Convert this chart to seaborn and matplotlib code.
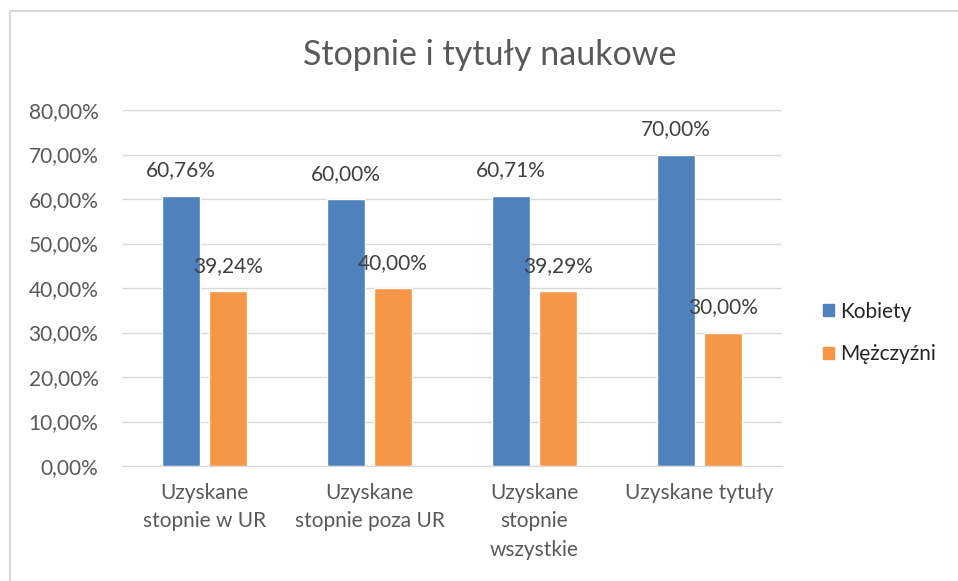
import seaborn as sns
import matplotlib.pyplot as plt
import pandas as pd
from matplotlib.patches import Rectangle, Patch

# data
kategorie = ["Uzyskane\nstopnie w UR", "Uzyskane\nstopnie poza UR",
             "Uzyskane\nstopnie\nwszystkie", "Uzyskane tytuły"]
kobiety = [60.76, 60.00, 60.71, 70.00]
mezczyzni = [39.24, 40.00, 39.29, 30.00]
serie = ["Kobiety", "Mężczyźni"]
kolory = ["#4F81BD", "#F79646"]

df = pd.DataFrame({
    "kat": kategorie * 2,
    "val": kobiety + mezczyzni,
    "plec": [serie[0]] * 4 + [serie[1]] * 4,
})

sns.set_style("white")
plt.rcParams['font.family'] = ['Lato', 'DejaVu Sans']
szary = "#595959"
fs = 15

fig = plt.figure(figsize=(9.58, 5.81), dpi=100)
ax = fig.add_axes([122 / 958, 1 - 466 / 581, 660 / 958, 356 / 581])

sns.barplot(data=df, x="kat", y="val", hue="plec", palette=kolory,
            width=0.57, gap=0.21, ax=ax, legend=False, saturation=1)

for cont in ax.containers:
    ax.bar_label(cont, labels=[f"{v:.2f}%".replace(".", ",") for v in cont.datavalues],
                 padding=11, fontsize=fs, color="#404040")

ax.set_ylim(0, 80)
ax.set_yticks(range(0, 81, 10))
ax.set_yticklabels([f"{t},00%" for t in range(0, 81, 10)], fontsize=fs, color=szary)
ax.tick_params(axis="x", labelsize=fs, labelcolor=szary, pad=12, length=0)
ax.tick_params(axis="y", pad=17, length=0)
for t in ax.get_xticklabels():
    t.set_linespacing(1.55)
ax.set_xlabel("")
ax.set_ylabel("")
ax.yaxis.grid(True, color="#D9D9D9", linewidth=1)
ax.set_axisbelow(True)
for s in ["top", "right", "left"]:
    ax.spines[s].set_visible(False)
ax.spines["bottom"].set_color("#D9D9D9")

fig.text(490 / 958, 1 - 55 / 581, "Stopnie i tytuły naukowe", ha="center", va="center",
         fontsize=24.5, color=szary)

handles = [Patch(color=c) for c in kolory]
fig.legend(handles, serie, loc="center left", bbox_to_anchor=(804 / 958, 1 - 333 / 581),
           frameon=False, fontsize=fs, labelspacing=1.1, handlelength=0.55,
           handleheight=0.55, handletextpad=0.3, labelcolor="#262626")

fig.add_artist(Rectangle((10 / 958, -0.1), 1.2, 1.1 - 11 / 581, transform=fig.transFigure,
                         fill=False, edgecolor="#D9D9D9", linewidth=1.5))

fig.savefig("out.png", dpi=100)
